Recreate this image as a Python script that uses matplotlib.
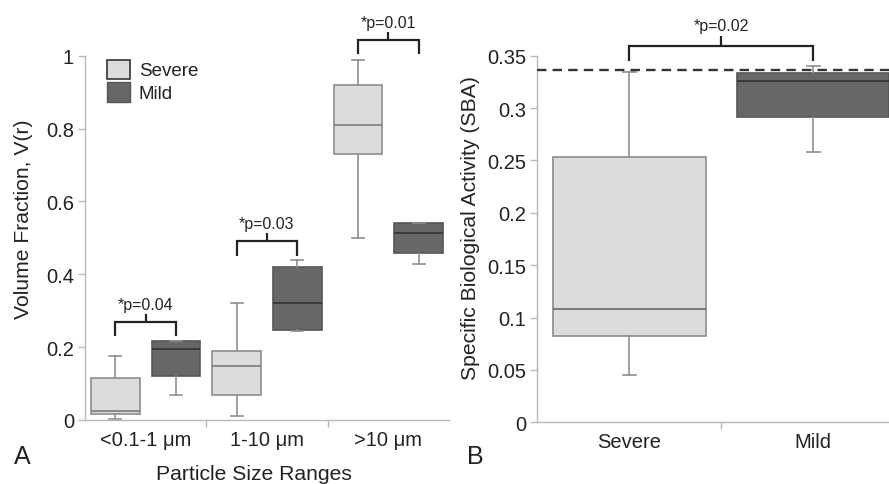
import matplotlib
matplotlib.use("Agg")
import matplotlib.pyplot as plt
from matplotlib.patches import Patch

plt.rcParams['font.family'] = ['Liberation Sans', 'DejaVu Sans']

# ---------------- data ----------------
size_ranges = ["<0.1-1 \u03bcm", "1-10 \u03bcm", ">10 \u03bcm"]
# stats per range: whisker low, q1, median, q3, whisker high
severe_whislo = [0.003, 0.012, 0.50]
severe_q1 = [0.016, 0.068, 0.730]
severe_med = [0.024, 0.149, 0.809]
severe_q3 = [0.115, 0.190, 0.919]
severe_whishi = [0.176, 0.321, 0.989]

mild_whislo = [0.069, 0.244, 0.429]
mild_q1 = [0.121, 0.246, 0.459]
mild_med = [0.195, 0.322, 0.514]
mild_q3 = [0.216, 0.419, 0.540]
mild_whishi = [0.216, 0.440, 0.540]

pvals_a = ["*p=0.04", "*p=0.03", "*p=0.01"]
bracket_a = [0.270, 0.490, 1.044]

groups_b = ["Severe", "Mild"]
sba_whislo = [0.0449, 0.258]
sba_q1 = [0.0821, 0.2911]
sba_med = [0.1078, 0.3258]
sba_q3 = [0.2535, 0.3334]
sba_whishi = [0.334, 0.3398]
sba_reference = 0.3366
pval_b = "*p=0.02"
bracket_b = 0.3595

# ---------------- style ----------------
sev_fill = "#dcdcdc"
sev_edge = "#8c8c8c"
mild_fill = "#676767"
mild_edge = "#555555"
axis_col = "#b8b8b8"
TICK_FS = 14.5
LABEL_FS = 15.2

fig = plt.figure(figsize=(8.89, 4.85), dpi=100)
W, H = 889, 485


def ax_rect(x0, y_top, x1, y_bot):
    return [x0 / W, (H - y_bot) / H, (x1 - x0) / W, (y_bot - y_top) / H]


def stats(lo, q1, med, q3, hi):
    return [dict(whislo=a, q1=b, med=c, q3=d, whishi=e, fliers=[])
            for a, b, c, d, e in zip(lo, q1, med, q3, hi)]


def draw(ax, st, pos, width, cap, fill, edge, medcol):
    ax.bxp(st, positions=pos, widths=width, capwidths=cap, patch_artist=True,
           showfliers=False,
           boxprops=dict(facecolor=fill, edgecolor=edge, linewidth=1.2),
           whiskerprops=dict(color="#8f8f8f", linewidth=1.2),
           capprops=dict(color="#8f8f8f", linewidth=1.2),
           medianprops=dict(color=medcol, linewidth=1.2))


def style_axes(ax):
    for s in ["top", "right"]:
        ax.spines[s].set_visible(False)
    for s in ["left", "bottom"]:
        ax.spines[s].set_color(axis_col)
        ax.spines[s].set_linewidth(1.0)
    ax.tick_params(axis="y", colors=axis_col, labelcolor="#222222",
                   labelsize=TICK_FS, length=5, width=1.0, pad=3)
    ax.tick_params(axis="x", which="major", length=0, labelsize=TICK_FS,
                   labelcolor="#222222", pad=7)
    ax.tick_params(axis="x", which="minor", length=5, width=1.0, colors=axis_col)


def bracket(ax, x1, x2, y, drop, up, text, fs):
    kw = dict(color="#222222", linewidth=1.6, clip_on=False,
              solid_capstyle="butt", solid_joinstyle="miter")
    ax.plot([x1, x1, x2, x2], [y - drop, y, y, y - drop], **kw)
    xm = (x1 + x2) / 2
    ax.plot([xm, xm], [y, y + up], **kw)
    ax.text(xm, y + up * 1.25, text, ha="center", va="bottom", fontsize=fs,
            color="#222222", clip_on=False)


# ---------------- panel A ----------------
axA = fig.add_axes(ax_rect(85, 56.7, 449, 421))
cats = list(range(1, len(size_ranges) + 1))
off = 0.25
draw(axA, stats(severe_whislo, severe_q1, severe_med, severe_q3, severe_whishi),
     [c - off for c in cats], 0.4, 0.1, sev_fill, sev_edge, "#7a7a7a")
draw(axA, stats(mild_whislo, mild_q1, mild_med, mild_q3, mild_whishi),
     [c + off for c in cats], 0.4, 0.1, mild_fill, mild_edge, "#333333")
axA.set_xlim(0.5, 3.5)
axA.set_ylim(0, 1.0)
axA.set_yticks([0, 0.2, 0.4, 0.6, 0.8, 1.0])
axA.set_yticklabels(["0", "0.2", "0.4", "0.6", "0.8", "1"])
axA.set_xticks(cats)
axA.set_xticklabels(size_ranges)
axA.set_xticks([1.5, 2.5], minor=True)
style_axes(axA)
axA.set_ylabel("Volume Fraction, V(r)", fontsize=LABEL_FS, color="#222222")
axA.yaxis.set_label_coords(-0.143, 0.555)
axA.set_xlabel("Particle Size Ranges", fontsize=LABEL_FS, color="#222222")
axA.xaxis.set_label_coords(0.464, -0.122)
for c, p, y in zip(cats, pvals_a, bracket_a):
    bracket(axA, c - off, c + off, y, 0.040, 0.022, p, 11.5)

leg = axA.legend(handles=[Patch(facecolor=sev_fill, edgecolor="#333333", linewidth=1.2),
                          Patch(facecolor=mild_fill, edgecolor=mild_edge, linewidth=1.0)],
                 labels=["Severe", "Mild"], loc="upper left",
                 bbox_to_anchor=(0.04, 1.01), frameon=False, fontsize=13.5,
                 handlelength=1.2, handleheight=1.2, handletextpad=0.5,
                 labelspacing=0.15, borderaxespad=0)
for t in leg.get_texts():
    t.set_color("#222222")

# ---------------- panel B ----------------
axB = fig.add_axes(ax_rect(537.3, 56.7, 905, 423.3))
gpos = list(range(1, len(groups_b) + 1))
bst = stats(sba_whislo, sba_q1, sba_med, sba_q3, sba_whishi)
draw(axB, bst[:1], gpos[:1], 0.83, 0.07, sev_fill, sev_edge, "#6a6a6a")
draw(axB, bst[1:], gpos[1:], 0.83, 0.07, mild_fill, mild_edge, "#333333")
axB.axhline(sba_reference, color="#333333", linewidth=1.7, linestyle=(0, (4, 2.6)),
            zorder=5)
axB.set_xlim(0.5, 2.5)
axB.set_ylim(0, 0.35)
axB.set_yticks([0, 0.05, 0.1, 0.15, 0.2, 0.25, 0.3, 0.35])
axB.set_yticklabels(["0", "0.05", "0.1", "0.15", "0.2", "0.25", "0.3", "0.35"])
axB.set_xticks(gpos)
axB.set_xticklabels(groups_b)
axB.set_xticks([1.5], minor=True)
style_axes(axB)
axB.set_ylabel("Specific Biological Activity (SBA)", fontsize=LABEL_FS, color="#222222")
axB.yaxis.set_label_coords(-0.156, 0.533)
bracket(axB, gpos[0], gpos[1], bracket_b, 0.0145, 0.0095, pval_b, 11.5)

fig.text(22 / W, 1 - 457 / H, "A", fontsize=18, ha="center", va="center", color="#222222")
fig.text(475 / W, 1 - 457 / H, "B", fontsize=18, ha="center", va="center", color="#222222")

fig.savefig("out.png", dpi=100)
